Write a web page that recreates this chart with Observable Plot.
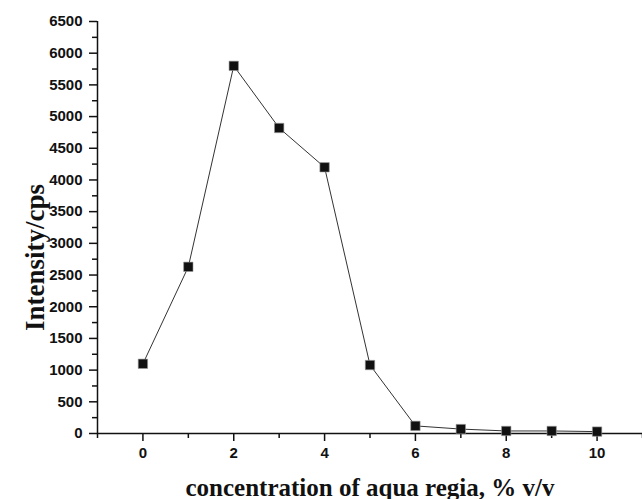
<!DOCTYPE html>
<html>
<head>
<meta charset="utf-8">
<script src="https://cdn.jsdelivr.net/npm/d3@7"></script>
<script src="https://cdn.jsdelivr.net/npm/@observablehq/plot@0.6"></script>
<style>
  html, body { margin: 0; padding: 0; background: #fff; }
  #chart svg { display: block; }
</style>
</head>
<body>
<div id="chart"></div>
<script>
const concentration = [0, 1, 2, 3, 4, 5, 6, 7, 8, 9, 10];
const intensity = [1100, 2630, 5800, 4820, 4200, 1080, 120, 70, 40, 40, 30];
const yMajorTicks = d3.range(0, 6501, 500);
const yMinorTicks = d3.range(250, 6500, 500);
const xMajorTicks = [0, 2, 4, 6, 8, 10];
const xMinorTicks = [-1, 1, 3, 5, 7, 9, 11];
const xTitle = "concentration of aqua regia, % v/v";
const yTitle = "Intensity/cps";

const data = concentration.map((c, i) => ({c, v: intensity[i]}));

const fmt = d3.format("d");

const chart = Plot.plot({
  width: 642,
  height: 499,
  marginLeft: 97,
  marginRight: 0,
  marginTop: 21,
  marginBottom: 66,
  x: {domain: [-1, 11]},
  y: {domain: [0, 6500]},
  style: {background: "#fff", color: "#111", overflow: "visible",
          fontFamily: "Liberation Sans, Arial, sans-serif", fontWeight: "bold", fontSize: "15px"},
  marks: [
    Plot.axisY(yMajorTicks, {tickSize: 8, tickPadding: 7, strokeWidth: 1.5, stroke: "#111", fill: "#111", tickFormat: fmt, label: null}),
    Plot.axisY(yMinorTicks, {tickSize: 5, text: null, strokeWidth: 1.5, stroke: "#111", label: null}),
    Plot.axisX(xMajorTicks, {tickSize: 8, tickPadding: 6, strokeWidth: 1.5, stroke: "#111", fill: "#111", tickFormat: fmt, label: null}),
    Plot.axisX(xMinorTicks, {tickSize: 5, text: null, strokeWidth: 1.5, stroke: "#111", label: null}),
    Plot.ruleX([-1], {y1: 0, y2: 6500, stroke: "#111", strokeWidth: 1.5}),
    Plot.ruleY([0], {x1: -1, x2: 11, stroke: "#111", strokeWidth: 1.5}),
    Plot.line(data, {x: "c", y: "v", stroke: "#333", strokeWidth: 1}),
    Plot.dot(data, {x: "c", y: "v", symbol: "square", r: 5.3, fill: "#111", stroke: "#999", strokeWidth: 0.6}),
    Plot.text([xTitle], {frameAnchor: "bottom", textAnchor: "middle", lineAnchor: "bottom", dy: 62,
      fontFamily: "Liberation Serif, Times New Roman, serif", fontWeight: "bold", fontSize: 25, fill: "#111"}),
    Plot.text([yTitle], {frameAnchor: "left", textAnchor: "middle", lineAnchor: "bottom", rotate: -90, dx: -54, dy: 30,
      fontFamily: "Liberation Serif, Times New Roman, serif", fontWeight: "bold", fontSize: 27, fill: "#111"})
  ]
});
document.getElementById("chart").appendChild(chart);
</script>
</body>
</html>
